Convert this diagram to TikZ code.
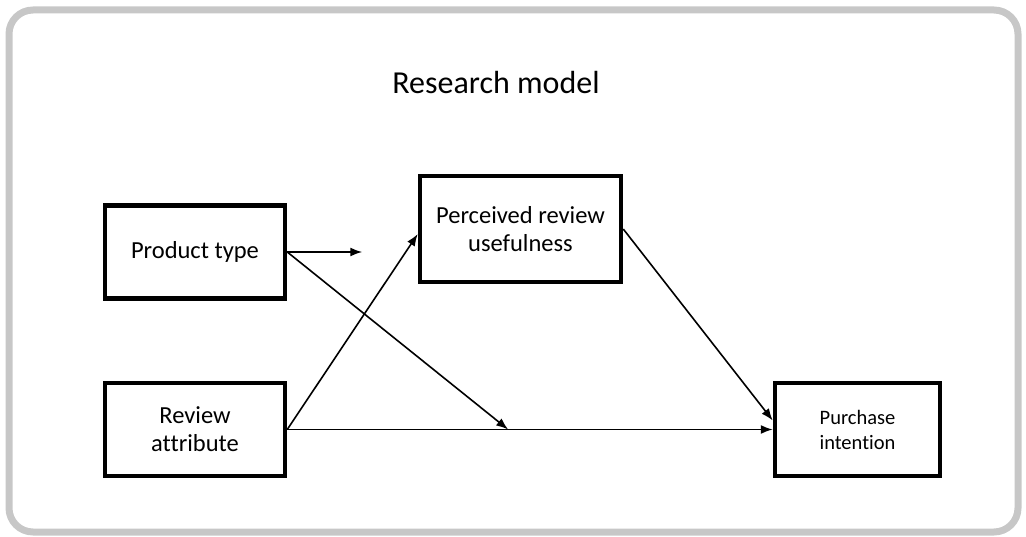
\documentclass[tikz,border=0pt]{standalone}
\usepackage{fontspec}
\setmainfont{Carlito}[Ligatures=NoCommon]
\usetikzlibrary{arrows.meta,calc,positioning}
\tikzset{
    -{Latex[length=12pt,width=9pt]},auto,
    state/.style ={rectangle, draw, -, line width=4.5pt, align=center, font=\fontsize{24.5}{28}\selectfont},
    frame/.style ={draw=black!22, line width=7pt, rounded corners=24pt, -}
}
\begin{document}
\begin{tikzpicture}[x=1pt,y=-1pt,line width=1.6pt]
	\useasboundingbox (0,0) rectangle (1026,537);
	\draw[frame] (9,10) rectangle (1018,532);
	\node (0) at (496,83) {\fontsize{32}{36}\selectfont Research model};
	\node (1) at (195,252) [state, minimum width=180, minimum height=93] {Product type};
	\node (2) at (195,429.5) [state, minimum width=180, minimum height=93] {Review\\attribute};
	\node (3) at (520.5,229) [state, minimum width=201, minimum height=106] {Perceived review\\usefulness};
	\node (4) at (857.5,429.5) [state, minimum width=165, minimum height=93, font=\fontsize{20.5}{25}\selectfont] {Purchase\\intention};
	\coordinate (5) at ($(1.east)+(75,0)$);
	\coordinate (6) at ($(2.east)!0.455!(4.west)$);

	\path (1.east) edge (5);
	\path (1.east) edge (6);
	\path (2.east) edge ([yshift=-5pt]3.west);
	\path (2.east) edge (4.west);
	\path (3.east) edge ([yshift=9pt]4.west);
\end{tikzpicture}
\end{document}
